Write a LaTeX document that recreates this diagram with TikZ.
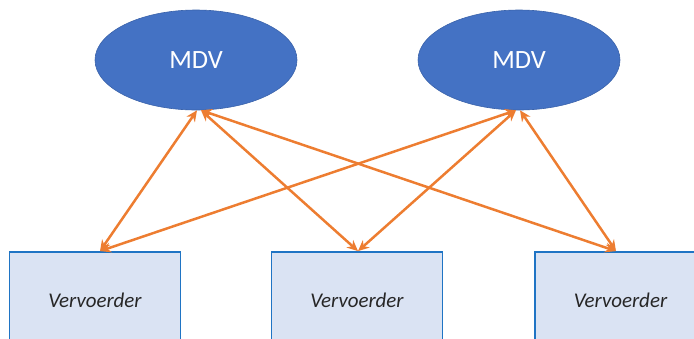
\documentclass[tikz,border=0pt]{standalone}
\usepackage{fontspec}
\setmainfont{Carlito}
\usetikzlibrary{shapes.geometric,arrows.meta}
\definecolor{mdvblue}{HTML}{4472C4}
\definecolor{mdvline}{HTML}{3A62AA}
\definecolor{boxfill}{HTML}{DAE3F3}
\definecolor{boxline}{HTML}{1F74C4}
\definecolor{arrorange}{HTML}{ED7D31}
\begin{document}
\begin{tikzpicture}[x=1bp,y=-1bp,
  mdv/.style={ellipse, fill=mdvblue, draw=mdvline, line width=0.6bp,
    minimum width=202bp, minimum height=100bp, inner sep=0pt,
    text=white, font=\fontsize{26.5}{30}\selectfont},
  carrier/.style={rectangle, fill=boxfill, draw=boxline, line width=1.8bp,
    minimum width=171bp, minimum height=96bp, inner sep=0pt,
    font=\itshape\fontsize{21}{25}\selectfont, text=black!85},
  link/.style={draw=arrorange, line width=2.5bp,
    {Stealth[length=11bp,width=10bp,fill=arrorange]}-{Stealth[length=11bp,width=10bp,fill=arrorange]}}]
\useasboundingbox (0,0) rectangle (694,338);
\clip (0,0) rectangle (694,338);
\node[mdv] (m1) at (196,60) {MDV};
\node[mdv] (m2) at (519,60) {MDV};
\node[carrier] (c1) at (95,300) {Vervoerder};
\node[carrier] (c2) at (357,300) {Vervoerder};
\node[carrier] (c3) at (620.5,300) {Vervoerder};
\draw[link] ([xshift=1bp]m1.south) -- ([xshift=5bp]c1.north);
\draw[link] ([xshift=5bp]m1.south) -- ([xshift=1bp]c2.north);
\draw[link] ([xshift=5bp]m1.south) -- ([xshift=-4.5bp]c3.north);
\draw[link] ([xshift=-3bp]m2.south) -- ([xshift=5bp]c1.north);
\draw[link] ([xshift=-3bp]m2.south) -- ([xshift=1bp]c2.north);
\draw[link] ([xshift=1bp]m2.south) -- ([xshift=-4.5bp]c3.north);
\end{tikzpicture}
\end{document}
